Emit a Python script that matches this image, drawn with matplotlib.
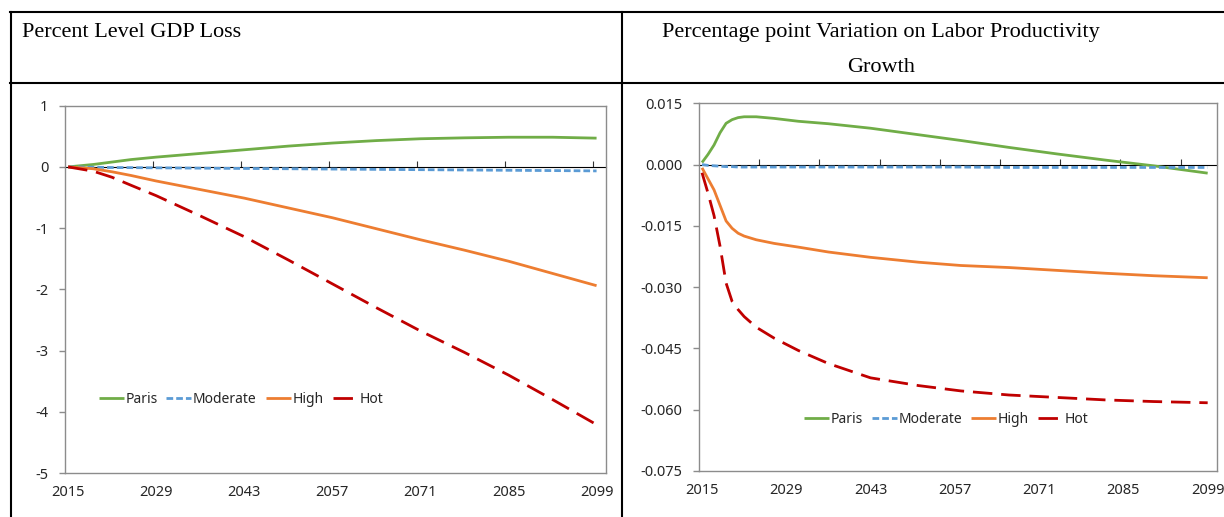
import matplotlib
matplotlib.use("Agg")
import matplotlib.pyplot as plt
from matplotlib.lines import Line2D

plt.rcParams['font.family'] = ['Noto Sans', 'DejaVu Sans']

# category axis: 2015..2100, data up to 2099
first_year = 2015
n_cats = 86
label_years = [2015, 2029, 2043, 2057, 2071, 2085, 2099]
scenarios = ['Paris', 'Moderate', 'High', 'Hot']

# percent level GDP loss
gdp_years = [2015, 2019, 2022, 2025, 2029, 2036, 2043, 2050, 2057, 2064, 2071, 2078, 2085, 2092, 2099]
gdp_paris = [0, 0.04, 0.08, 0.12, 0.16, 0.22, 0.28, 0.34, 0.39, 0.43, 0.46, 0.475, 0.485, 0.485, 0.47]
gdp_moderate = [0, -0.005, -0.01, -0.012, -0.015, -0.02, -0.025, -0.03, -0.035, -0.04, -0.045, -0.05, -0.055, -0.06, -0.065]
gdp_high = [0, -0.03, -0.08, -0.14, -0.23, -0.37, -0.51, -0.67, -0.83, -1.01, -1.19, -1.36, -1.54, -1.74, -1.94]
gdp_hot = [0, -0.07, -0.17, -0.3, -0.47, -0.8, -1.14, -1.52, -1.91, -2.3, -2.68, -3.03, -3.4, -3.8, -4.21]
gdp_yticks = [1, 0, -1, -2, -3, -4, -5]

# percentage point variation on labor productivity growth
lp_years = [2015, 2016, 2017, 2018, 2019, 2020, 2021, 2022, 2024, 2027, 2031, 2036,
            2043, 2051, 2058, 2066, 2074, 2082, 2090, 2099]
lp_paris = [0.0005, 0.0025, 0.0048, 0.0078, 0.0101, 0.0110, 0.0115, 0.0117, 0.0117, 0.0113,
            0.0106, 0.0100, 0.0089, 0.0073, 0.0059, 0.0042, 0.0026, 0.0011, -0.0003, -0.0021]
lp_moderate = [0, -0.0002, -0.0003, -0.0004, -0.0005, -0.0005, -0.0006, -0.0006, -0.0006, -0.0006,
               -0.0006, -0.0006, -0.0006, -0.0006, -0.0006, -0.0007, -0.0007, -0.0007, -0.0007, -0.0007]
lp_high = [-0.0008, -0.0035, -0.0062, -0.0100, -0.0138, -0.0156, -0.0168, -0.0175, -0.0184, -0.0193,
           -0.0202, -0.0214, -0.0227, -0.0239, -0.0247, -0.0252, -0.0259, -0.0266, -0.0272, -0.0277]
lp_hot = [-0.0020, -0.0070, -0.0125, -0.0200, -0.0290, -0.0335, -0.0355, -0.0372, -0.0398, -0.0425,
          -0.0455, -0.0487, -0.0522, -0.0541, -0.0554, -0.0564, -0.0570, -0.0576, -0.0580, -0.0583]
lp_yticks = [0.015, 0.0, -0.015, -0.030, -0.045, -0.060, -0.075]

colors = ['#70AD47', '#5B9BD5', '#ED7D31', '#C00000']
dashes = [None, (2.4, 1.1), None, (7.0, 3.2)]

W, H = 1224, 517


def box(x0, y0, x1, y1):
    # pixel box (from top-left) -> figure fraction rect
    return [x0 / W, 1 - y1 / H, (x1 - x0) / W, (y1 - y0) / H]


def cat_pos(years):
    return [y - first_year + 0.5 for y in years]


def draw_panel(ax, years, series, yticks, fmt, tick_every, leg_anchor):
    x = cat_pos(years)
    for name, vals, c, d in zip(scenarios, series, colors, dashes):
        line, = ax.plot(x, vals, color=c, lw=2.0, label=name, solid_capstyle='butt')
        if d is not None:
            line.set_dashes(d)
            line.set_dash_capstyle('butt')

    ax.set_xlim(0, n_cats)
    ax.set_ylim(min(yticks), max(yticks))
    ax.set_yticks(yticks, [fmt.format(v) for v in yticks])
    ax.set_xticks(cat_pos(label_years), [str(y) for y in label_years])
    ax.tick_params(axis='x', length=0, pad=9, labelsize=10.5, labelcolor='#262626')
    ax.tick_params(axis='y', length=4, width=1, color='#8c8c8c', pad=8,
                   labelsize=10.5, labelcolor='#262626')
    for s in ax.spines.values():
        s.set_color('#8c8c8c')
        s.set_linewidth(1.0)

    # horizontal axis line crossing at zero, tick marks on top of it
    y0, y1 = ax.get_ylim()
    zero_frac = (0 - y0) / (y1 - y0)
    sec = ax.secondary_xaxis(zero_frac)
    marks = list(range(tick_every, n_cats, tick_every))
    sec.set_xticks(marks, [''] * len(marks))
    sec.tick_params(length=4, width=0.8, color='#333333')
    sec.spines['top'].set_color('black')
    sec.spines['top'].set_linewidth(0.8)
    sec.set_zorder(1.5)

    ax.legend(loc='center', bbox_to_anchor=leg_anchor, ncol=4, frameon=False,
              fontsize=10, handlelength=1.8, handletextpad=0.12, columnspacing=0.65,
              labelcolor='#262626')


fig = plt.figure(figsize=(W / 100, H / 100), dpi=100)

ax1 = fig.add_axes(box(65, 105.7, 606, 473))
draw_panel(ax1, gdp_years, [gdp_paris, gdp_moderate, gdp_high, gdp_hot],
           gdp_yticks, '{:g}', 14, (0.325, 0.2))

ax2 = fig.add_axes(box(699, 103.3, 1216.7, 471))
draw_panel(ax2, lp_years, [lp_paris, lp_moderate, lp_high, lp_hot],
           lp_yticks, '{:.3f}', 10, (0.477, 0.141))

# table frame around the two panels
frame = [
    ((10, 1224), (12, 12)),
    ((10, 1224), (82.5, 82.5)),
    ((11, 11), (12, 517)),
    ((622, 622), (12, 517)),
]
for xs, ys in frame:
    fig.add_artist(Line2D([v / W for v in xs], [1 - v / H for v in ys],
                          color='black', lw=1.5, transform=fig.transFigure))

serif = ['Liberation Serif', 'DejaVu Serif']
fig.text(22 / W, 1 - 37.3 / H, 'Percent Level GDP Loss', family=serif,
         fontsize=16, va='baseline', ha='left')
fig.text(881 / W, 1 - 37.3 / H, 'Percentage point Variation on Labor Productivity',
         family=serif, fontsize=16, va='baseline', ha='center')
fig.text(881 / W, 1 - 71.7 / H, 'Growth', family=serif, fontsize=16,
         va='baseline', ha='center')

fig.savefig('out.png', dpi=100)
